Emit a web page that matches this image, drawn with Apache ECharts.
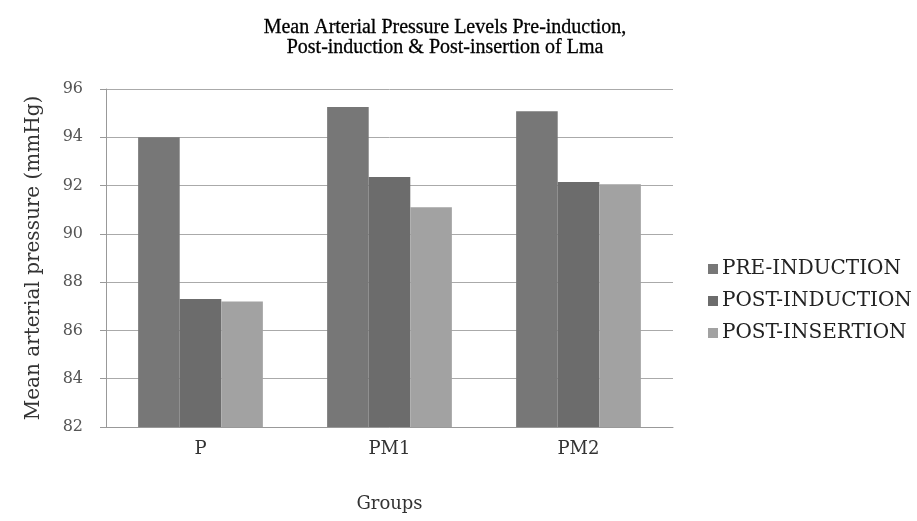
<!DOCTYPE html>
<html><head><meta charset="utf-8">
<script src="https://cdn.jsdelivr.net/npm/echarts@6/dist/echarts.min.js"></script>
<style>html,body{margin:0;padding:0;background:#fff}#c{width:917px;height:521px}</style>
</head><body><div id="c"></div>
<script>
const categories = ['P', 'PM1', 'PM2'];
const preInduction = [94.0, 95.25, 95.08];
const postInduction = [87.3, 92.35, 92.15];
const postInsertion = [87.2, 91.1, 92.05];
const seriesNames = ['PRE-INDUCTION', 'POST-INDUCTION', 'POST-INSERTION'];
const yTicks = [82, 84, 86, 88, 90, 92, 94, 96];

const serif = '"DejaVu Serif", "Liberation Serif", serif';
const titleFont = '"Liberation Serif", serif';
const chart = echarts.init(document.getElementById('c'));
const colors = ['#777777', '#6c6c6c', '#a2a2a2'];
chart.setOption({
  animation: false,
  backgroundColor: '#fff',
  title: {
    text: 'Mean Arterial Pressure Levels Pre-induction,\nPost-induction & Post-insertion of Lma',
    left: 440, top: 13, textAlign: 'center',
    textStyle: { fontFamily: titleFont, fontSize: 20, fontWeight: 'normal', color: '#000', lineHeight: 20, textBorderColor: '#000', textBorderWidth: 0.3 }
  },
  legend: {
    orient: 'vertical', left: 703, top: 254, itemGap: 12,
    itemWidth: 10, itemHeight: 10, icon: 'rect',
    textStyle: { fontFamily: serif, fontSize: 20, color: '#222', padding: [0, 0, 0, -1] },
    data: seriesNames
  },
  grid: { left: 106, right: 244, top: 89, bottom: 94 },
  xAxis: {
    type: 'category', data: categories,
    name: 'Groups', nameLocation: 'middle', nameGap: 68,
    nameTextStyle: { fontFamily: serif, fontSize: 18, color: '#333' },
    axisLine: { lineStyle: { color: '#999' } },
    axisTick: { show: false },
    axisLabel: { fontFamily: serif, fontSize: 18, color: '#333', margin: 13 }
  },
  yAxis: {
    type: 'value', min: yTicks[0], max: yTicks[yTicks.length - 1], interval: 2,
    name: 'Mean arterial pressure (mmHg)', nameLocation: 'middle', nameGap: 62,
    nameTextStyle: { fontFamily: serif, fontSize: 20, color: '#333' },
    axisLine: { show: true, lineStyle: { color: '#999' } },
    axisTick: { show: true, length: 6, lineStyle: { color: '#999' } },
    axisLabel: { fontFamily: serif, fontSize: 16, color: '#555', margin: 23 },
    splitLine: { lineStyle: { color: '#aaa', width: 1 } }
  },
  series: [
    { name: seriesNames[0], type: 'bar', data: preInduction, barGap: '0%', barCategoryGap: '34%', itemStyle: { color: colors[0] } },
    { name: seriesNames[1], type: 'bar', data: postInduction, itemStyle: { color: colors[1] } },
    { name: seriesNames[2], type: 'bar', data: postInsertion, itemStyle: { color: colors[2] } }
  ]
});
</script></body></html>
